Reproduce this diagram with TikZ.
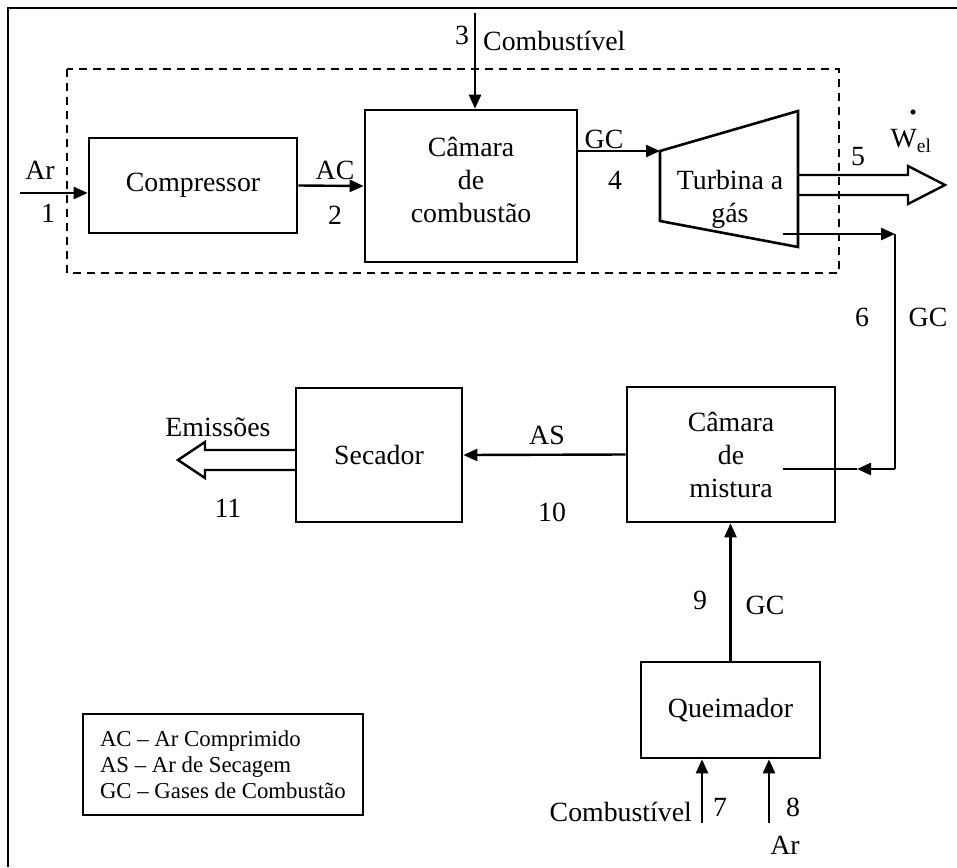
\documentclass[tikz,border=0pt]{standalone}
\usepackage{fontspec}
\setmainfont{Liberation Serif}
\usepackage{amsmath}
\usetikzlibrary{arrows.meta,positioning}
\tikzset{
  unit/.style={draw,line width=2.6pt,align=center,inner sep=0pt},
  flow/.style={line width=2.4pt,-{Triangle[length=14pt,width=12pt]}},
  pipe/.style={line width=2.4pt},
  lbl/.style={inner sep=0pt},
}
\begin{document}
\begin{tikzpicture}[x=1pt,y=-1pt,font=\fontsize{27.8}{33}\selectfont]
\useasboundingbox (0,0) rectangle (957,867);
% frame and turbine-set boundary
\draw[line width=2.6pt] (957,8) -- (8,8) -- (8,867);
\draw[line width=2pt,dash pattern=on 8pt off 6pt] (67,69) rectangle (839,273);

% units
\node[unit,minimum width=208pt,minimum height=95pt] (comp) at (193,185.5) {Compressor};
\node[unit,minimum width=212pt,minimum height=152pt] (comb) at (471,186) {Câmara\\de\\combustão\\[-21pt]};
\node[unit,minimum width=208pt,minimum height=135pt] (mix) at (731,454.5) {Câmara\\de\\mistura};
\node[unit,minimum width=166pt,minimum height=134pt] (sec) at (379,455) {Secador};
\node[unit,minimum width=179pt,minimum height=96pt] (burn) at (730.5,710) {Queimador};
\node[draw,line width=2pt,align=left,inner xsep=17pt,minimum height=101pt,anchor=west,
      font=\fontsize{22.8}{26}\selectfont] (key) at (82,764.5)
  {AC -- Ar Comprimido\\AS -- Ar de Secagem\\GC -- Gases de Combustão};

% turbine
\coordinate (t1) at (660,151);
\coordinate (t2) at (798,111);
\coordinate (t3) at (798,247);
\coordinate (t4) at (660,221);
\draw[line width=2.6pt] (t1) -- (t2) -- (t3) -- (t4) -- cycle;
\node[align=center,lbl] (turb) at (730,199) {Turbina a\\gás};

% streams
\coordinate (arin) at (20,193);
\coordinate (fuelin) at (475,13);
\coordinate (tout) at (783,234);
\coordinate (bend) at (895,234);
\coordinate (bend2) at (895,469);
\coordinate (mixtip) at (857,469);
\coordinate (mixin) at (783,469);
\coordinate (fuel2) at (702,823);
\coordinate (air2) at (769,823);

\draw[flow] (arin) -- (comp.west |- arin);
\draw[flow] (comp.east) -- (comb.west);
\draw[flow] (fuelin) -- (fuelin |- comb.north);
\draw[flow] (comb.east |- t1) -- (t1);
\draw[flow] (tout) -- (bend);
\draw[pipe] (bend) -- (bend2);
\draw[flow] (bend2) -- (mixtip);
\draw[pipe] (mixtip) -- (mixin);
\draw[flow] (mix.west) -- (sec.east);
\draw[flow] (burn.north) -- (burn.north |- mix.south);
\draw[flow] (fuel2) -- (fuel2 |- burn.south);
\draw[flow] (air2) -- (air2 |- burn.south);

% power and emissions
\draw[pipe] (798,175) -- (908,175) -- (908,166) -- (945,185) -- (908,204) -- (908,195) -- (798,195);
\draw[pipe] (296,450) -- (205,450) -- (205,442) -- (178,460) -- (205,478) -- (205,470) -- (296,470);

% labels
\node[lbl] (l1a) at (40,170) {Ar};
\node[lbl] (l1) at (48,213) {1};
\node[lbl] (l2a) at (335,170) {AC};
\node[lbl] (l2) at (335,215) {2};
\node[lbl] (l3) at (462,35) {3};
\node[lbl,anchor=west] (l3a) at (483,41) {Combustível};
\node[lbl] (l4a) at (604,139) {GC};
\node[lbl] (l4) at (615,180) {4};
\node[lbl] (l5) at (858,157) {5};
\node[lbl] (wel) at (911,141) {$\text{W}_{\text{el}}$};
\fill (913,112) circle (2.6pt);
\node[lbl] (l6) at (862,317) {6};
\node[lbl] (l6a) at (928,317) {GC};
\node[lbl] (l10a) at (547,435) {AS};
\node[lbl] (l10) at (552,512) {10};
\node[lbl] (l11a) at (218,427) {Emissões};
\node[lbl] (l11) at (228,508) {11};
\node[lbl] (l9) at (700,600) {9};
\node[lbl] (l9a) at (765,605) {GC};
\node[lbl,anchor=east] (l7a) at (692,812) {Combustível};
\node[lbl] (l7) at (720,807) {7};
\node[lbl] (l8) at (793,807) {8};
\node[lbl] (l8a) at (785,845) {Ar};
\end{tikzpicture}
\end{document}
